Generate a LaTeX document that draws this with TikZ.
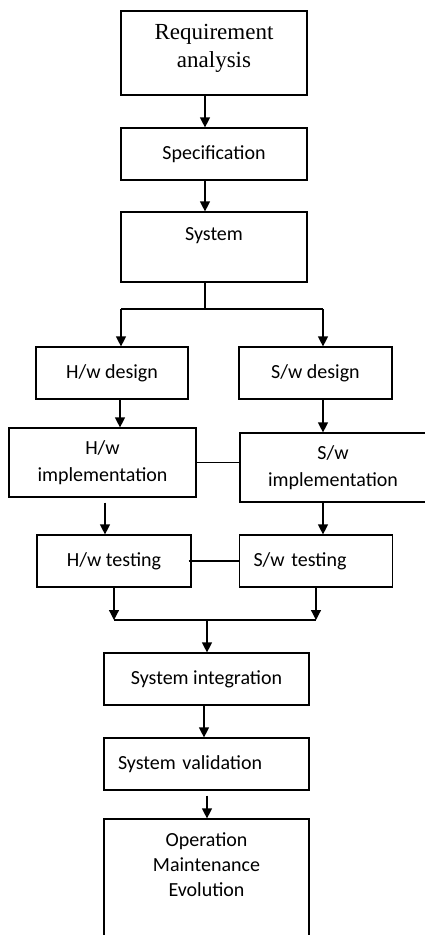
\documentclass[tikz,border=0pt]{standalone}
\usepackage{fontspec}
\setmainfont{Carlito}
\newfontfamily\reqfont{Liberation Serif}
\usetikzlibrary{arrows.meta,positioning}
\tikzset{
  box/.style={draw, rectangle, line width=1.2pt, align=center, font=\fontsize{20}{27}\selectfont},
  lbox/.style={box, align=left, inner xsep=14pt, text width=#1},
  txt/.style={align=center, inner sep=0pt, font=\fontsize{20}{25}\selectfont},
}
\begin{document}
\begin{tikzpicture}[x=1pt, y=-1pt, line width=1.2pt, >={Triangle[length=10pt,width=10pt]}]
\useasboundingbox (0,0) rectangle (424,935);
\node[box, minimum width=186pt, minimum height=84pt] (req) at (214,53) {};
\node[txt, below=13pt of req.north, font=\reqfont\fontsize{23}{28}\selectfont] (reqtxt) {Requirement\\analysis};
\node[box, minimum width=186pt, minimum height=52pt] (spec) at (214,154) {Specification};
\node[box, minimum width=186pt, minimum height=70pt] (sys) at (214,247) {};
\node[txt, below=16pt of sys.north] (systxt) {System};
\node[box, minimum width=152pt, minimum height=52pt] (hwd) at (112,373) {H/w design};
\node[box, minimum width=153pt, minimum height=52pt] (swd) at (315.5,373) {S/w design};
\node[box, minimum width=187pt, minimum height=69pt] (hwi) at (102.5,462.5) {H/w\\implementation};
\node[box, minimum width=186pt, minimum height=69pt] (swi) at (333,467.5) {S/w\\implementation};
\node[box, minimum width=154pt, minimum height=52pt] (hwt) at (114,561) {H/w testing};
\node[lbox=125pt, minimum width=153pt, minimum height=52pt] (swt) at (316,561) {S/w testing};
\node[box, minimum width=205pt, minimum height=52pt] (sint) at (206.5,679) {System integration};
\node[lbox=177pt, minimum width=205pt, minimum height=52pt] (sval) at (206.5,764) {System validation};
\node[box, minimum width=205pt, minimum height=118pt] (op) at (206.5,878) {};
\node[txt, below=14pt of op.north] (optxt) {Operation\\Maintenance\\Evolution};
% split and merge points
\coordinate (split) at (205,309);
\coordinate (jl) at (121,309);
\coordinate (jr) at (323,309);
\coordinate (ml) at (114,620);
\coordinate (mr) at (316,620);
\coordinate (merge) at (207,620);
\path[draw,->] ([xshift=-9pt]req.south) -- ([xshift=-9pt]spec.north);
\path[draw,->] ([xshift=-9pt]spec.south) -- ([xshift=-9pt]sys.north);
\path[draw,-] ([xshift=-9pt]sys.south) -- (split);
\path[draw,-] (jl) -- (jr);
\path[draw,->] (jl) -- (jl |- hwd.north);
\path[draw,->] (jr) -- (jr |- swd.north);
\path[draw,->] ([xshift=8pt]hwd.south) -- ([xshift=8pt]hwd.south |- hwi.north);
\path[draw,->] ([xshift=7.5pt]swd.south) -- ([xshift=7.5pt]swd.south |- swi.north);
\path[draw,-] (hwi.east) -- (hwi.east -| swi.west);
\path[draw,->] ([xshift=2.5pt,yshift=-5pt]hwi.south) -- ([xshift=2.5pt]hwi.south |- hwt.north);
\path[draw,->] ([xshift=-10pt]swi.south) -- ([xshift=-10pt]swi.south |- swt.north);
\path[draw,-] ([xshift=-3pt]hwt.east) -- (swt.west);
\path[draw,->] (hwt.south) -- (ml);
\path[draw,->] (swt.south) -- (mr);
\path[draw,-] (ml) -- (mr);
\path[draw,->] (merge) -- (merge |- sint.north);
\path[draw,->] ([xshift=-2.5pt]sint.south) -- ([xshift=-2.5pt]sval.north);
\path[draw,->] ([xshift=0.5pt,yshift=-5pt]sval.south) -- ([xshift=0.5pt]op.north);
\end{tikzpicture}
\end{document}
